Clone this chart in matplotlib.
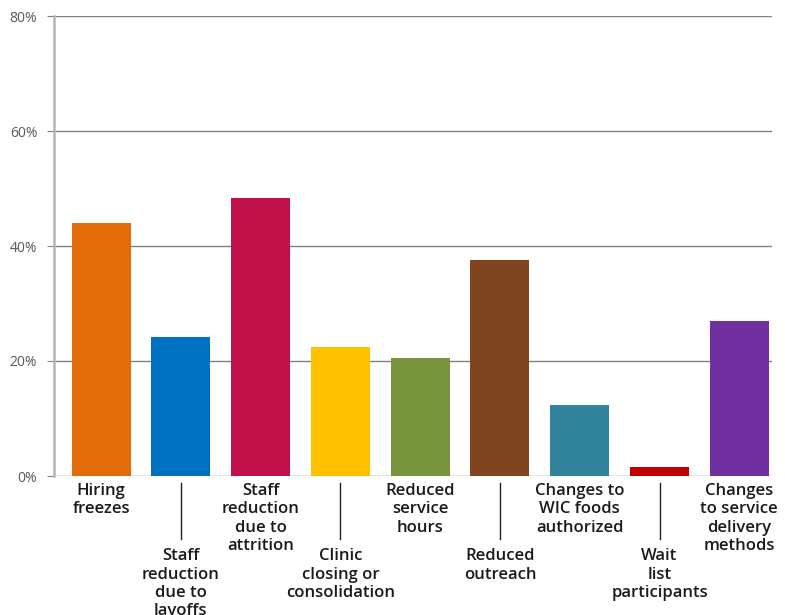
import matplotlib.pyplot as plt
import numpy as np

plt.rcParams['font.family'] = ['Open Sans', 'DejaVu Sans']

categories = ["Hiring\nfreezes", "Staff\nreduction\ndue to\nlayoffs",
              "Staff\nreduction\ndue to\nattrition", "Clinic\nclosing or\nconsolidation",
              "Reduced\nservice\nhours", "Reduced\noutreach",
              "Changes to\nWIC foods\nauthorized", "Wait\nlist\nparticipants",
              "Changes\nto service\ndelivery\nmethods"]
values = [44.0, 24.2, 48.3, 22.4, 20.5, 37.6, 12.3, 1.6, 27.0]
colors = ["#E36C0A", "#0070C0", "#C0104A", "#FFC000", "#77933C",
          "#7F4520", "#31849B", "#C00000", "#7030A0"]
yticks = [0, 20, 40, 60, 80]

fig = plt.figure(figsize=(7.85, 6.15), dpi=100)
ax = fig.add_axes([54 / 785, 139 / 615, 718 / 785, 460 / 615])

x = np.arange(len(values))
ax.bar(x, values, width=0.74, color=colors, zorder=3)

ax.set_xlim(-0.59, 8.41)
ax.set_ylim(0, 80)
ax.set_yticks(yticks)
ax.set_yticklabels([f"{t}%" for t in yticks], color="#595959", fontsize=10)
ax.yaxis.grid(True, color="#808080", linewidth=1, zorder=0)
ax.tick_params(axis="y", length=5, color="#808080", pad=7)
ax.set_xticks([])

for s in ["top", "right", "bottom"]:
    ax.spines[s].set_visible(False)
ax.spines["left"].set_color("#B5B5B5")
ax.spines["left"].set_linewidth(1.8)

# alternating labels: even ones just below axis, odd ones lower with a leader line
for i, lab in enumerate(categories):
    if i % 2 == 0:
        off = -5
    else:
        off = -52
        ax.plot([i, i], [-0.015, -0.138], transform=ax.get_xaxis_transform(),
                color="#222222", linewidth=1, clip_on=False)
    ax.annotate(lab, xy=(i, 0), xycoords=("data", "axes fraction"),
                xytext=(0, off), textcoords="offset points",
                ha="center", va="top", fontsize=12, fontweight="semibold",
                color="#1a1a1a", linespacing=1.2)

fig.savefig("out.png", dpi=100)
